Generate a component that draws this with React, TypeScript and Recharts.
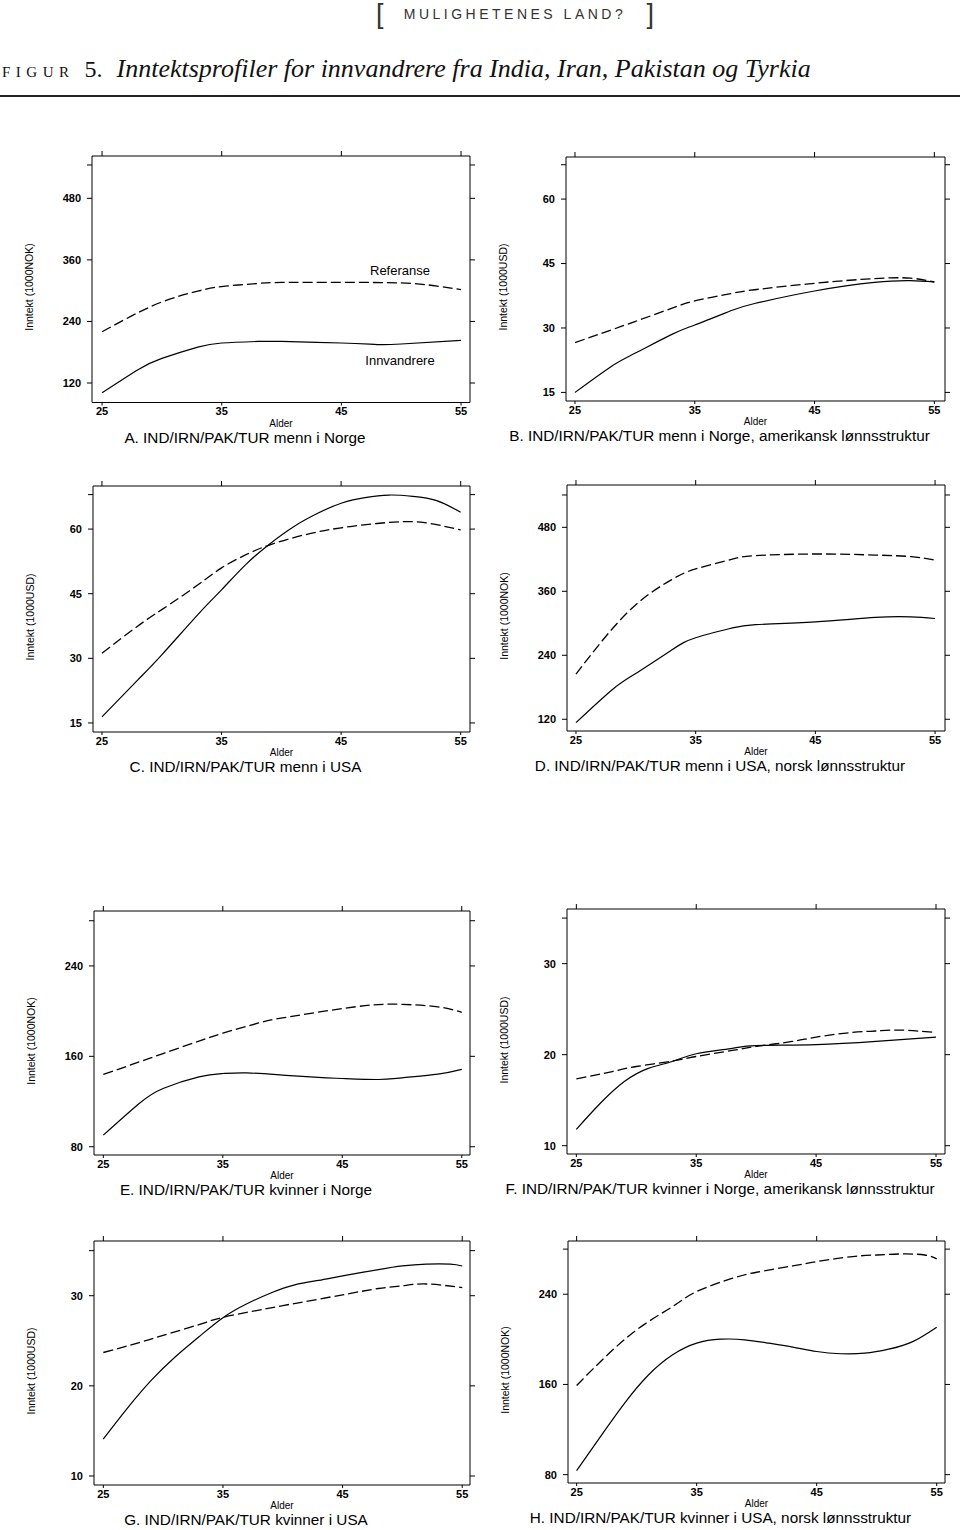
import React from 'react';
import { LineChart, Line, XAxis, YAxis, ReferenceDot } from 'recharts';

// ---------- data ----------
const xTicks = [25, 35, 45, 55];

// A. menn i Norge (1000 NOK)
const ageRefA = [25, 27, 30, 33, 35, 38, 40, 45, 50, 53, 55];
const refA = [220, 245, 278, 299, 308, 314, 316, 316, 315, 309, 302];
const ageInnA = [25, 28, 30, 33, 35, 38, 40, 45, 48, 50, 55];
const innA = [101, 146, 168, 190, 198, 201, 201, 198, 195, 196, 203];
const yTicksA = [120, 240, 360, 480];

// B. menn i Norge, amerikansk lønnsstruktur (1000 USD)
const ageRefB = [25, 28, 30, 33, 35, 38, 40, 45, 50, 53, 55];
const refB = [26.6, 29.5, 31.5, 34.5, 36.3, 38.0, 38.9, 40.4, 41.5, 41.6, 40.7];
const ageInnB = [25, 28, 30, 33, 35, 38, 40, 45, 50, 53, 55];
const innB = [15, 21, 24.1, 28.4, 30.7, 34, 35.7, 38.6, 40.6, 41, 40.7];
const yTicksB = [15, 30, 45, 60];

// C. menn i USA (1000 USD)
const ageRefC = [25, 28, 30, 33, 35, 37, 39, 42, 45, 48, 50, 52, 55];
const refC = [31.2, 37.5, 41.3, 47.0, 51.0, 54.0, 56.3, 58.7, 60.3, 61.3, 61.7, 61.5, 59.8];
const ageInnC = [25, 28, 30, 33, 35, 37, 39, 41, 43, 45, 47, 49, 51, 53, 55];
const innC = [16.4, 25.0, 30.8, 40.1, 45.9, 51.7, 56.5, 60.5, 63.6, 66, 67.3, 67.9, 67.6, 66.6, 63.9];
const yTicksC = [15, 30, 45, 60];

// D. menn i USA, norsk lønnsstruktur (1000 NOK)
const ageRefD = [25, 27, 30, 33, 35, 38, 40, 45, 50, 53, 55];
const refD = [204.5, 262, 335, 382, 402, 420, 427, 430, 428, 425, 418.6];
const ageInnD = [25, 28, 30, 33, 35, 38, 40, 45, 50, 53, 55];
const innD = [113.7, 175, 206, 250, 273, 291, 297.5, 302.8, 311, 312, 309];
const yTicksD = [120, 240, 360, 480];

// E. kvinner i Norge (1000 NOK)
const ageRefE = [25, 28, 30, 33, 35, 38, 40, 45, 48, 50, 53, 55];
const refE = [144, 155, 162.5, 173.5, 180.5, 189.5, 194, 202.3, 205.8, 206, 203.8, 199];
const ageInnE = [25, 28, 30, 33, 35, 37, 40, 43, 45, 48, 50, 53, 55];
const innE = [90.3, 118.3, 131.6, 141.9, 144.8, 145.4, 143.4, 141.3, 140.4, 139.5, 141, 144.2, 148.4];
const yTicksE = [80, 160, 240];

// F. kvinner i Norge, amerikansk lønnsstruktur (1000 USD)
const ageRefF = [25, 28, 30, 33, 35, 38, 40, 43, 45, 48, 50, 52, 55];
const refF = [17.34, 18.15, 18.7, 19.3, 19.8, 20.46, 20.9, 21.45, 21.93, 22.44, 22.6, 22.7, 22.44];
const ageInnF = [25, 27, 29, 31, 33, 35, 38, 40, 45, 50, 55];
const innF = [11.8, 14.66, 17.05, 18.5, 19.25, 20.1, 20.7, 21.0, 21.1, 21.45, 21.93];
const yTicksF = [10, 20, 30];

// G. kvinner i USA (1000 USD)
const ageRefG = [25, 28, 30, 33, 35, 38, 40, 45, 48, 50, 52, 55];
const refG = [23.7, 24.8, 25.6, 26.8, 27.6, 28.4, 28.9, 30.1, 30.8, 31.1, 31.3, 30.9];
const ageInnG = [25, 27, 29, 31, 33, 35, 37, 39, 41, 43, 45, 48, 50, 52, 54, 55];
const innG = [14.1, 17.5, 20.6, 23.2, 25.45, 27.56, 29.1, 30.3, 31.2, 31.7, 32.2, 32.9, 33.3, 33.5, 33.5, 33.3];
const yTicksG = [10, 20, 30];

// H. kvinner i USA, norsk lønnsstruktur (1000 NOK)
const ageRefH = [25, 27, 30, 33, 35, 38, 40, 43, 45, 48, 50, 52, 54, 55];
const refH = [159.1, 180.4, 208.4, 229.1, 242.4, 254.2, 259.5, 265.1, 268.9, 273.4, 274.8, 275.7, 274.8, 271.3];
const ageInnH = [25, 27, 29, 31, 33, 35, 37, 39, 41, 43, 45, 47, 49, 51, 53, 55];
const innH = [83.5, 114, 143.5, 168.6, 186.3, 196.6, 200.1, 199.6, 196.6, 193.1, 189.2, 187.2, 187.7, 191.3, 198, 210.8];
const yTicksH = [80, 160, 240];

const captions = [
  'A. IND/IRN/PAK/TUR menn i Norge',
  'B. IND/IRN/PAK/TUR menn i Norge, amerikansk lønnsstruktur',
  'C. IND/IRN/PAK/TUR menn i USA',
  'D. IND/IRN/PAK/TUR menn i USA, norsk lønnsstruktur',
  'E. IND/IRN/PAK/TUR kvinner i Norge',
  'F. IND/IRN/PAK/TUR kvinner i Norge, amerikansk lønnsstruktur',
  'G. IND/IRN/PAK/TUR kvinner i USA',
  'H. IND/IRN/PAK/TUR kvinner i USA, norsk lønnsstruktur',
];
const yLabelNOK = 'Inntekt (1000NOK)';
const yLabelUSD = 'Inntekt (1000USD)';
const xLabel = 'Alder';
const seriesNames = ['Referanse', 'Innvandrere'];

// ---------- helpers ----------
const zip = (ages: number[], vals: number[]) => ages.map((a, i) => ({ age: a, v: vals[i] }));

type Cfg = {
  x0: number; x1: number; y0: number; y1: number;
  xDomain: [number, number]; yDomain: [number, number];
  yTicks: number[]; yExtra: number;
  ref: { age: number; v: number }[]; inn: { age: number; v: number }[];
  yLabel: string; caption: string;
  notes?: boolean;
};

const panels: Cfg[] = [
  { x0: 92, x1: 470, y0: 156, y1: 402.5, xDomain: [24.16, 55.75], yDomain: [82, 562.5], yTicks: yTicksA, yExtra: 545,
    ref: zip(ageRefA, refA), inn: zip(ageInnA, innA), yLabel: yLabelNOK, caption: captions[0], notes: true },
  { x0: 566, x1: 945, y0: 157, y1: 401, xDomain: [24.25, 55.89], yDomain: [13.0, 69.8], yTicks: yTicksB, yExtra: 68,
    ref: zip(ageRefB, refB), inn: zip(ageInnB, innB), yLabel: yLabelUSD, caption: captions[1] },
  { x0: 93, x1: 470, y0: 486, y1: 732, xDomain: [24.25, 55.78], yDomain: [12.9, 70.0], yTicks: yTicksC, yExtra: 68,
    ref: zip(ageRefC, refC), inn: zip(ageInnC, innC), yLabel: yLabelUSD, caption: captions[2] },
  { x0: 567, x1: 945, y0: 485, y1: 731, xDomain: [24.25, 55.83], yDomain: [98, 559.4], yTicks: yTicksD, yExtra: 540.7,
    ref: zip(ageRefD, refD), inn: zip(ageInnD, innD), yLabel: yLabelNOK, caption: captions[3] },
  { x0: 94, x1: 470, y0: 911, y1: 1155, xDomain: [24.22, 55.69], yDomain: [72.7, 288.6], yTicks: yTicksE, yExtra: 280,
    ref: zip(ageRefE, refE), inn: zip(ageInnE, innE), yLabel: yLabelNOK, caption: captions[4] },
  { x0: 567, x1: 945, y0: 909, y1: 1154, xDomain: [24.22, 55.75], yDomain: [9.09, 36.0], yTicks: yTicksF, yExtra: 35,
    ref: zip(ageRefF, refF), inn: zip(ageInnF, innF), yLabel: yLabelUSD, caption: captions[5] },
  { x0: 94, x1: 470, y0: 1241, y1: 1485, xDomain: [24.22, 55.65], yDomain: [9.0, 36.07], yTicks: yTicksG, yExtra: 35,
    ref: zip(ageRefG, refG), inn: zip(ageInnG, innG), yLabel: yLabelUSD, caption: captions[6] },
  { x0: 568, x1: 945, y0: 1241, y1: 1483, xDomain: [24.28, 55.69], yDomain: [72.6, 287.2], yTicks: yTicksH, yExtra: 280,
    ref: zip(ageRefH, refH), inn: zip(ageInnH, innH), yLabel: yLabelNOK, caption: captions[7] },
];

const SANS = "'Liberation Sans', Arial, Helvetica, sans-serif";
const SERIF = "'Liberation Serif', 'Times New Roman', serif";

function Panel({ cfg }: { cfg: Cfg }) {
  const { x0, x1, y0, y1, xDomain, yDomain, yTicks, yExtra, ref, inn, yLabel, caption, notes } = cfg;
  const LW = 50, RW = 10, TH = 8, BH = 22;
  const w = x1 - x0 + LW + RW;
  const h = y1 - y0 + TH + BH;
  const allY = [...yTicks, yExtra];
  const fmt = (v: number) => (yTicks.includes(v) ? String(v) : '');
  const blank = () => '';
  const tickStyle = { fill: '#000', fontSize: 11, fontWeight: 'bold' as const, fontFamily: SANS };
  const cx = (x0 + x1) / 2;
  const cy = (y0 + y1) / 2;
  return (
    <>
      <div style={{ position: 'absolute', left: x0 - LW, top: y0 - TH }}>
        <LineChart width={w} height={h} margin={{ top: 0, right: 0, bottom: 0, left: 0 }}>
          <XAxis xAxisId="b" type="number" dataKey="age" domain={xDomain} ticks={xTicks} interval={0}
            allowDataOverflow height={BH} tickSize={3} tickMargin={2} stroke="#000" tick={tickStyle} />
          <XAxis xAxisId="t" orientation="top" type="number" dataKey="age" domain={xDomain} ticks={xTicks} interval={0}
            allowDataOverflow height={TH} tickSize={5} tickFormatter={blank} stroke="#000" />
          <YAxis yAxisId="l" type="number" domain={yDomain} ticks={allY} interval={0} allowDataOverflow
            width={LW} tickSize={5} tickMargin={6} tickFormatter={fmt} stroke="#000" tick={tickStyle} />
          <YAxis yAxisId="r" orientation="right" type="number" domain={yDomain} ticks={allY} interval={0} allowDataOverflow
            width={RW} tickSize={5} tickFormatter={blank} stroke="#000" />
          <Line xAxisId="b" yAxisId="l" data={ref} dataKey="v" type="natural" stroke="#000" strokeWidth={1.3}
            strokeDasharray="10 4" dot={false} activeDot={false} isAnimationActive={false} />
          <Line xAxisId="b" yAxisId="l" data={inn} dataKey="v" type="natural" stroke="#000" strokeWidth={1.2}
            dot={false} activeDot={false} isAnimationActive={false} />
          {notes && (
            <ReferenceDot xAxisId="b" yAxisId="l" x={49.9} y={340} r={0} fill="none" stroke="none"
              label={{ value: seriesNames[0], position: 'center', fill: '#000', fontSize: 13, fontFamily: SANS }} />
          )}
          {notes && (
            <ReferenceDot xAxisId="b" yAxisId="l" x={49.9} y={165} r={0} fill="none" stroke="none"
              label={{ value: seriesNames[1], position: 'center', fill: '#000', fontSize: 13, fontFamily: SANS }} />
          )}
        </LineChart>
      </div>
      <div style={{ position: 'absolute', left: x0 - 63 - 100, top: cy + 8 - 6, width: 200, height: 12,
        lineHeight: '12px', textAlign: 'center', transform: 'rotate(-90deg)', fontFamily: SANS, fontSize: 10.5,
        color: '#000', whiteSpace: 'nowrap' }}>{yLabel}</div>
      <div style={{ position: 'absolute', left: cx - 50, top: y1 + 21 - 6, width: 100, height: 12,
        lineHeight: '12px', textAlign: 'center', fontFamily: SANS, fontSize: 10, color: '#000' }}>{xLabel}</div>
      <div style={{ position: 'absolute', left: (x0 - 72 + x1) / 2 - 300, top: y1 + 35 - 9, width: 600, height: 18,
        lineHeight: '18px', textAlign: 'center', fontFamily: SANS, fontSize: 15.3, color: '#000', whiteSpace: 'nowrap' }}>{caption}</div>
    </>
  );
}

export default function App() {
  return (
    <div style={{ position: 'absolute', left: 0, top: 0, width: 960, height: 1530, background: '#fff', overflow: 'hidden' }}>
      <div style={{ position: 'absolute', left: 376, top: 0, width: 278, height: 28, lineHeight: '28px',
        display: 'flex', justifyContent: 'space-between', alignItems: 'center', color: '#333',
        fontFamily: SANS }}>
        <span style={{ fontSize: 27, fontWeight: 300 }}>[</span>
        <span style={{ fontSize: 14, letterSpacing: 3.5 }}>MULIGHETENES LAND?</span>
        <span style={{ fontSize: 27, fontWeight: 300 }}>]</span>
      </div>
      <div style={{ position: 'absolute', left: 2, top: 53, height: 32, lineHeight: '32px', whiteSpace: 'nowrap',
        fontFamily: SERIF, color: '#111' }}>
        <span style={{ fontSize: 22, fontVariant: 'small-caps', letterSpacing: 5.5 }}>figur</span>
        <span style={{ fontSize: 24, marginLeft: 10 }}>5.</span>
        <span style={{ fontSize: 26, fontStyle: 'italic', marginLeft: 14 }}>Inntektsprofiler for innvandrere fra India, Iran, Pakistan og Tyrkia</span>
      </div>
      <div style={{ position: 'absolute', left: 0, top: 95, width: 960, height: 2, background: '#222' }} />
      {panels.map((p, i) => <Panel key={i} cfg={p} />)}
    </div>
  );
}
